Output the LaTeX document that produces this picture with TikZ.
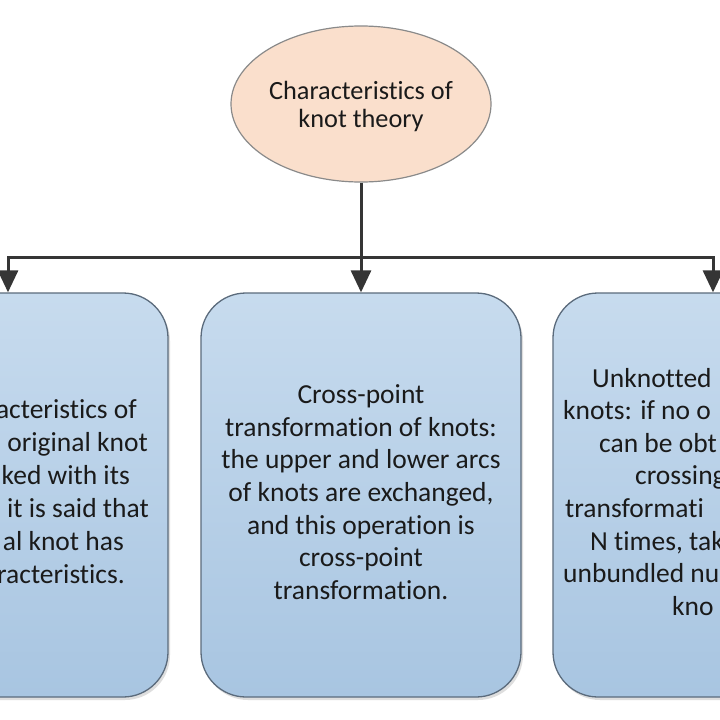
\documentclass[tikz,border=0pt]{standalone}
\usepackage{fontspec}
\setmainfont{Carlito}[Ligatures=NoCommon]
\usetikzlibrary{arrows.meta,shapes.geometric,shadows}
\definecolor{peach}{HTML}{FADFCC}
\definecolor{ellborder}{HTML}{8A8A8A}
\definecolor{boxtop}{HTML}{C7DBEE}
\definecolor{boxbot}{HTML}{A8C5E1}
\definecolor{boxborder}{HTML}{5B6B7C}
\definecolor{conn}{HTML}{353535}
\definecolor{txt}{HTML}{1A1A1A}
\begin{document}
\begin{tikzpicture}[x=1pt,y=-1pt,
  boxstyle/.style={draw=boxborder, line width=1.3pt, rounded corners=45pt,
    minimum width=320pt, minimum height=404pt, inner sep=0pt,
    top color=boxtop, bottom color=boxbot,
    drop shadow={shadow xshift=2pt, shadow yshift=-3pt, fill=black!25, opacity=0.5}},
  ellstyle/.style={ellipse, draw=ellborder, line width=1.2pt, fill=peach,
    minimum width=260pt, minimum height=156pt, inner sep=0pt},
  bodytext/.style={text=txt, inner sep=0pt, font=\fontsize{27.5}{32.7}\selectfont},
  lfrag/.style={bodytext, anchor=base east},
  rfrag/.style={bodytext, anchor=base west},
  conline/.style={draw=conn, line width=3pt, line join=miter},
  arr/.style={conline, -{Triangle[length=22pt,width=20pt]}}
]
\useasboundingbox (0,0) rectangle (720,720);
\fill[white] (0,0) rectangle (720,720);
\clip (0,0) rectangle (720,720);

% boxes
\node[boxstyle] (boxL) at (8,495) {};
\node[boxstyle] (boxM) at (361,495) {};
\node[boxstyle] (boxR) at (713,495) {};

% ellipse
\node[ellstyle] (ell) at (361,104) {};
\node[text=txt, inner sep=0pt, align=center,
  font=\fontsize{26.3}{28.3}\selectfont] (elltext) at (361,106.5)
  {Characteristics of\\knot theory};

% connectors
\coordinate (j) at (361,257);
\draw[conline] (ell.south) -- (j);
\draw[arr] (j) -| (boxL.north);
\draw[arr] (j) -- (boxM.north);
\draw[arr] (j) -| (boxR.north);

% middle text
\node[bodytext, align=center] (mtext) at (361,492.2)
  {Cross-point\\transformation of knots:\\the upper and lower arcs\\of knots are exchanged,\\and this operation is\\cross-point\\transformation.};

% left fragments (box cut by the picture's edge)
\node[lfrag] (l1) at (137,418) {acteristics of};
\node[lfrag] (l2) at (148,451) {original knot};
\node[lfrag] (l3) at (130,484) {ked with its};
\node[lfrag] (l4) at (149,517) {it is said that};
\node[lfrag] (l5) at (124,550) {al knot has};
\node[lfrag] (l6) at (125,583) {racteristics.};

% right fragments
\node[rfrag] (r1) at (592,387) {Unknotted};
\node[rfrag] (r2) at (563,419.6) {knots: if no o};
\node[rfrag] (r3) at (599,452.2) {can be obt};
\node[rfrag] (r4) at (635,484.8) {crossing};
\node[rfrag] (r5) at (565,517.4) {transformati};
\node[rfrag] (r6) at (590,550) {N times, tak};
\node[rfrag] (r7) at (563,582.6) {unbundled nu};
\node[rfrag] (r8) at (672,615.2) {kno};
\end{tikzpicture}
\end{document}
